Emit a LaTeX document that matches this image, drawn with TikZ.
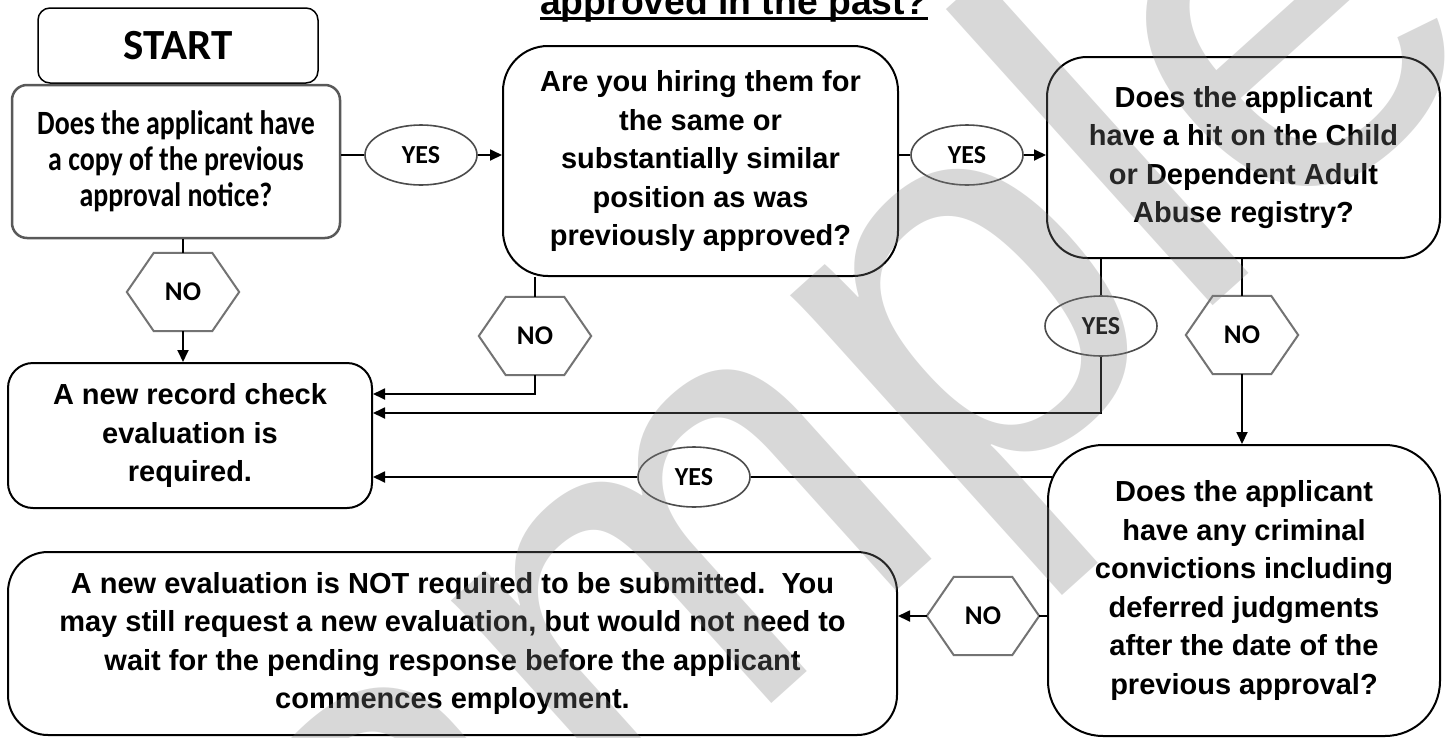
\documentclass[tikz,border=0pt]{standalone}
\usepackage{fontspec}
\setmainfont{Liberation Sans}
\newfontfamily\calfont{Carlito}
\newfontfamily\calcond[FakeStretch=0.82]{Carlito}
\usetikzlibrary{arrows.meta,calc,shapes.geometric}
\newcommand\hexborder[1]{\draw[hexline] (#1.west) -- ([xshift=27pt]#1.north west) -- ([xshift=-27pt]#1.north east) -- (#1.east) -- ([xshift=-27pt]#1.south east) -- ([xshift=27pt]#1.south west) -- cycle;}
\begin{document}
\begin{tikzpicture}[x=1pt,y=-1pt,
 box/.style={draw=black,line width=2pt,rounded corners=#1,fill=white,align=center,inner sep=0pt,font=\bfseries\fontsize{29}{38.5}\selectfont},
 box/.default=30pt,
 yeslab/.style={ellipse,draw=black!70,line width=1.6pt,fill=white,minimum width=112pt,minimum height=60pt,inner sep=0pt,font=\calfont\bfseries\fontsize{26}{26}\selectfont},
 nolab/.style={minimum width=112pt,minimum height=78pt,inner sep=0pt,font=\calfont\bfseries\fontsize{27}{27}\selectfont},
 hexline/.style={draw=black!55,line width=2pt,line join=miter},
 conn/.style={line width=1.8pt},
 arr/.style={conn,-{Triangle[length=12pt,width=11pt]}},
]
\useasboundingbox[fill=white] (0,0) rectangle (1446,737);

\node[anchor=base,inner sep=0pt,font=\bfseries\fontsize{37.3}{40}\selectfont] (title) at (734,14) {approved in the past?};
\draw[line width=3pt] ([yshift=-4.5pt]title.base west) -- ([yshift=-4.5pt]title.base east);

\node[box=12pt,line width=1.5pt,minimum width=280pt,minimum height=75pt,font=\calfont\bfseries\fontsize{43}{43}\selectfont] (start) at (178,45.5) {START};
\node[box=15pt,draw=black!65,line width=2.5pt,minimum width=328pt,minimum height=153pt,font=\calcond\bfseries\fontsize{34}{36}\selectfont] (q1) at (176,161.5) {Does the applicant have\\a copy of the previous\\approval notice?};
\node[box=45pt,minimum width=395pt,minimum height=230pt] (q2) at (700.5,161) {Are you hiring them for\\the same or\\substantially similar\\position as was\\previously approved?};
\node[box=40pt,minimum width=393pt,minimum height=201pt] (q3) at (1243.5,157.5) {Does the applicant\\have a hit on the Child\\or Dependent Adult\\Abuse registry?};
\node[box=25pt,minimum width=364pt,minimum height=145pt] (a) at (190,435.5) {A new record check\\evaluation is\\required.};
\node[box=55pt,minimum width=392pt,minimum height=291pt] (q4) at (1244,590.5) {Does the applicant\\have any criminal\\convictions including\\deferred judgments\\after the date of the\\previous approval?};
\node[box=40pt,minimum width=889pt,minimum height=183pt] (b) at (452.5,643.5) {A new evaluation is NOT required to be submitted.\ \ You\\may still request a new evaluation, but would not need to\\wait for the pending response before the applicant\\commences employment.};

\node[yeslab] (y1) at (421,155) {YES};
\node[yeslab] (y2) at (967,155) {YES};
\node[yeslab] (y3) at (1101,326) {YES};
\node[yeslab] (y4) at (694,477) {YES};
\node[nolab] (n1) at (183,292) {NO};
\node[nolab] (n2) at (535,336) {NO};
\node[nolab] (n3) at (1242,335) {NO};
\node[nolab] (n4) at (983,616) {NO};
\hexborder{n1}
\hexborder{n2}
\hexborder{n3}
\hexborder{n4}

\draw[conn] (q1.east |- y1) -- (y1.west);
\draw[arr] (y1.east) -- (q2.west |- y1);
\draw[conn] (q2.east |- y2) -- (y2.west);
\draw[arr] (y2.east) -- (q3.west |- y2);
\draw[conn] (q1.south -| n1) -- (n1.north);
\draw[arr] (n1.south) -- (a.north -| n1);
\draw[conn] (q2.south -| n2) -- (n2.north);
\draw[arr] (n2.south) |- ([yshift=-32pt]a.north east);
\draw[conn] (q3.south -| y3) -- (y3.north);
\draw[arr] (y3.south) |- ([yshift=-51pt]a.north east);
\draw[conn] (q3.south -| n3) -- (n3.north);
\draw[arr] (n3.south) -- (q4.north -| n3);
\draw[conn] ($(q4.west |- y4)+(5,0)$) -- (y4.east);
\draw[arr] (y4.west) -- (a.east |- y4);
\draw[conn] (q4.west |- n4) -- (n4.east);
\draw[arr] (n4.west) -- (b.east |- n4);

\node[rotate=42,anchor=base west,inner sep=0pt,text=gray,opacity=0.3,font=\fontsize{550}{550}\selectfont] (wm) at (118,1292) {Sample};
\end{tikzpicture}
\end{document}
